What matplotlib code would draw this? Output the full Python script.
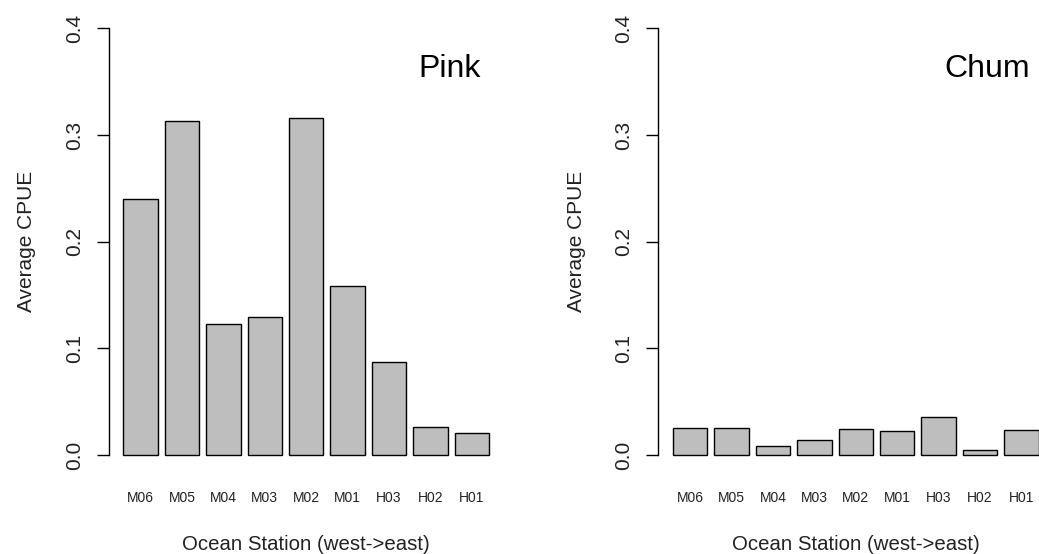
import matplotlib
matplotlib.use("Agg")
import matplotlib.pyplot as plt
import numpy as np

plt.rcParams['font.family'] = ['Liberation Sans', 'DejaVu Sans']

stations = ["M06", "M05", "M04", "M03", "M02", "M01", "H03", "H02", "H01"]
pink = [0.240, 0.3135, 0.1233, 0.1293, 0.316, 0.1588, 0.0872, 0.0268, 0.0209]
chum = [0.0258, 0.0258, 0.0089, 0.0139, 0.0248, 0.0225, 0.0358, 0.0050, 0.0235]
species = ["Pink", "Chum"]
yticks = [0.0, 0.1, 0.2, 0.3, 0.4]
ytick_labels = ["0.0", "0.1", "0.2", "0.3", "0.4"]

W, H = 1039, 554
fig = plt.figure(figsize=(W / 100, H / 100), dpi=100)

# R barplot geometry: width 1, space 0.2
n = len(stations)
lefts = 0.2 + np.arange(n) * 1.2
centers = lefts + 0.5
xmin, xmax = 0.2, lefts[-1] + 1.0
ext = 0.04 * (xmax - xmin)

ax_w = 394.9 / W
top_px, bot_px = 11.2, 472.2
ax_bottom = 1 - bot_px / H
ax_h = (bot_px - top_px) / H
ax_h_px = bot_px - top_px
positions = [108.8 / W, 658.3 / W]

for left, vals, name in zip(positions, [pink, chum], species):
    ax = fig.add_axes([left, ax_bottom, ax_w, ax_h])
    ax.bar(centers, vals, width=1.0, color="#BEBEBE", edgecolor="black", linewidth=1.0)
    ax.set_xlim(xmin - ext, xmax + ext)
    ax.set_ylim(-0.016, 0.416)
    for s in ["top", "right", "bottom"]:
        ax.spines[s].set_visible(False)
    ax.spines["left"].set_bounds(0, 0.4)
    ax.spines["left"].set_linewidth(1.0)
    ax.set_yticks(yticks)
    ax.set_yticklabels(ytick_labels, rotation=90, va="center", fontsize=15, color="#222222")
    ax.tick_params(axis="y", length=9, width=1.0, pad=9)
    ax.set_xticks(centers)
    ax.set_xticklabels(stations, fontsize=10, color="#222222")
    ax.tick_params(axis="x", length=0, pad=13.5)
    ax.set_ylabel("Average CPUE", fontsize=15, va="center", color="#222222")
    ax.yaxis.set_label_coords(-82 / 394.9, 0.5)
    ax.set_xlabel("Ocean Station (west->east)", fontsize=14.7, va="center", color="#222222")
    ax.xaxis.set_label_coords(0.5, -72.8 / ax_h_px)
    ax.text(10.55, 0.362, name, fontsize=23, ha="right", va="center", color="black")

fig.savefig("out.png", dpi=100)
